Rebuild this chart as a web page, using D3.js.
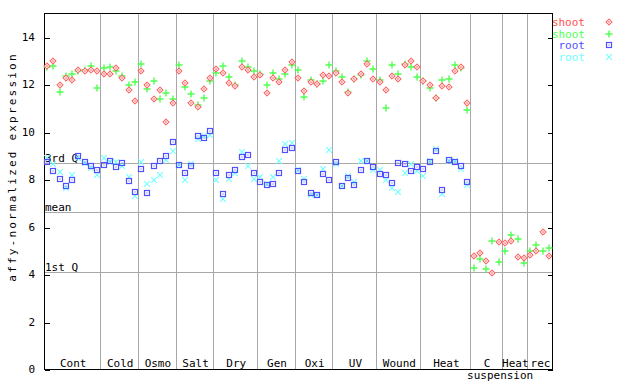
<!DOCTYPE html>
<html>
<head>
<meta charset="utf-8">
<script src="https://cdn.jsdelivr.net/npm/d3@7"></script>
<style>
  html, body { margin: 0; padding: 0; background: #fff; }
  svg { display: block; }
  text { font-family: "DejaVu Sans Mono", "Liberation Mono", monospace; font-size: 11px; fill: #000; }
</style>
</head>
<body>
<svg id="chart" width="640" height="384"></svg>
<script>
// ---- data ----
const groups = ["Cont", "Cold", "Osmo", "Salt", "Dry", "Gen", "Oxi", "UV", "Wound", "Heat", "C", "Heat", "rec"];
const groupSub = ["", "", "", "", "", "", "", "", "", "", "suspension", "", ""];
const groupSizes = [9, 6, 6, 6, 7, 6, 6, 7, 7, 8, 5, 4, 4];
const yTicks = [0, 2, 4, 6, 8, 10, 12, 14];
const seriesNames = ["shoot", "shoot", "root", "root"];
const seriesColors = ["#ff5050", "#50ff50", "#5050ff", "#70ffff"];

const shootRed = [
  12.75, 12.96, 11.98, 12.27, 12.19, 12.61, 12.54, 12.61, 12.57,
  12.44, 12.41, 12.67, 12.28, 11.77, 11.30,
  12.57, 11.95, 11.36, 11.77, 10.41, 11.22,
  12.54, 12.03, 11.22, 11.05, 11.78, 12.28,
  12.62, 12.49, 12.07, 11.93, 12.71, 12.61, 12.31,
  12.37, 11.64, 12.27, 12.11, 12.58, 12.92,
  12.28, 11.73, 12.11, 12.02, 12.40, 12.35,
  12.49, 12.11, 11.64, 12.24, 12.41, 12.87, 12.23,
  12.10, 11.77, 12.35, 12.23, 12.83, 12.96, 12.74,
  12.15, 11.98, 11.43, 11.93, 11.89, 12.57, 12.74, 11.19,
  4.77, 4.88, 4.55, 4.04, 5.35,
  5.31, 5.39, 4.71, 4.67,
  4.80, 4.97, 5.77, 4.76
];
const shootGreen = [
  12.71, 12.75, 11.69, 12.35, 12.45, 12.54, 12.58, 12.75, 11.86,
  12.67, 12.71, 12.54, 12.35, 11.95, 12.11,
  12.87, 11.78, 12.15, 11.38, 11.64, 11.37,
  12.79, 11.89, 11.60, 11.14, 11.40, 12.15,
  12.49, 12.75, 12.32, 11.98, 12.96, 12.74, 12.57,
  12.41, 11.98, 12.49, 12.23, 12.41, 12.82,
  12.58, 11.44, 12.19, 12.02, 12.15, 12.79,
  12.54, 12.32, 11.69, 12.20, 12.37, 12.96, 12.62,
  12.19, 11.00, 12.79, 12.45, 12.87, 12.71, 12.31,
  12.15, 11.85, 11.43, 12.19, 12.23, 12.79, 12.70, 10.93,
  4.25, 4.63, 4.21, 5.39, 4.50,
  4.97, 5.64, 5.47, 4.46,
  4.97, 5.22, 4.97, 5.09
];
const rootBlue = [
  8.72, 8.36, 8.01, 7.71, 7.98, 8.99, 8.71, 8.56, 8.40,
  8.60, 8.77, 8.53, 8.68, 7.92, 7.47,
  8.43, 7.43, 8.56, 8.77, 8.96, 9.57,
  8.60, 8.26, 8.57, 9.82, 9.74, 10.03,
  8.26, 7.39, 8.18, 8.40, 8.95, 9.02, 8.27,
  7.88, 7.77, 7.80, 8.26, 9.23, 9.32,
  8.36, 7.88, 7.42, 7.35, 8.23, 7.97,
  8.72, 7.71, 8.05, 7.75, 8.39, 8.77, 8.51,
  8.22, 8.18, 7.84, 8.68, 8.64, 8.34, 8.51,
  8.43, 8.72, 9.19, 7.56, 8.82, 8.72, 8.56, 7.89
];
const rootCyan = [
  8.89, 8.64, 8.30, 7.63, 8.18, 8.88, 8.67, 8.47, 8.18,
  8.89, 8.72, 8.72, 8.57, 8.10, 7.27,
  8.71, 7.81, 7.97, 8.19, 8.79, 9.19,
  8.60, 7.97, 8.64, 9.67, 9.82, 9.84,
  7.97, 7.18, 8.01, 8.26, 9.15, 8.57, 8.02,
  8.09, 7.80, 8.09, 8.77, 9.50, 9.53,
  8.37, 8.02, 7.33, 7.35, 8.43, 9.23,
  8.64, 7.71, 8.15, 7.88, 8.77, 8.77, 8.40,
  8.40, 7.97, 7.61, 7.47, 8.26, 8.64, 8.34,
  8.13, 8.77, 9.27, 7.36, 8.77, 8.78, 8.43, 7.75
];
const refLabels = ["3rd Q", "mean", "1st Q"];
const refValues = [8.68, 6.61, 4.08];

// ---- layout ----
const L = 44, R = 552, T = 13, B = 369;
const nTotal = groupSizes.reduce((a, b) => a + b, 0);

const svg = d3.select("#chart");
const x = d3.scaleLinear().domain([0, nTotal]).range([L, R]);
const y = d3.scaleLinear().domain([0, 15]).range([B, T]);
const px = v => Math.round(v) + 0.5;

const g = svg.append("g");

// group separators
const bounds = [];
let acc = 0;
groupSizes.forEach(s => { bounds.push([acc, acc + s]); acc += s; });

g.selectAll("line.sep").data(bounds.slice(1)).enter().append("line")
  .attr("x1", d => px(x(d[0]))).attr("x2", d => px(x(d[0])))
  .attr("y1", T).attr("y2", B)
  .attr("stroke", "#a8a8a8").attr("stroke-width", 1).attr("shape-rendering", "crispEdges");

// reference lines
g.selectAll("line.ref").data(refValues).enter().append("line")
  .attr("x1", L).attr("x2", R)
  .attr("y1", d => px(y(d))).attr("y2", d => px(y(d)))
  .attr("stroke", "#a8a8a8").attr("stroke-width", 1).attr("shape-rendering", "crispEdges");

g.selectAll("text.ref").data(refValues).enter().append("text")
  .attr("x", L + 1).attr("y", d => Math.round(y(d)) - 1)
  .text((d, i) => refLabels[i]);

// axes (ticks inside)
const yAxisL = d3.axisRight(y).tickValues(yTicks).tickSize(5).tickFormat("");
const yAxisR = d3.axisLeft(y).tickValues(yTicks).tickSize(5).tickFormat("");
const aL = g.append("g").attr("transform", `translate(${L + 0.5},0)`).call(yAxisL);
const aR = g.append("g").attr("transform", `translate(${R + 0.5},0)`).call(yAxisR);
[aL, aR].forEach(a => {
  a.select(".domain").remove();
  a.selectAll("line").attr("stroke", "#000").attr("shape-rendering", "crispEdges")
    .attr("transform", d => `translate(0,${Math.round(y(d)) + 0.5 - y(d)})`);
});

// tick labels
g.selectAll("text.tl").data(yTicks).enter().append("text")
  .attr("x", 35).attr("y", d => y(d) + 4)
  .attr("text-anchor", "end")
  .text(d => d);

// frame
g.append("rect").attr("x", L + 0.5).attr("y", T + 0.5).attr("width", R - L).attr("height", B - T)
  .attr("fill", "none").attr("stroke", "#000").attr("stroke-width", 1).attr("shape-rendering", "crispEdges");

// group labels
g.selectAll("text.gl").data(bounds).enter().append("text")
  .attr("x", d => x((d[0] + d[1]) / 2) + 1).attr("y", 367)
  .attr("text-anchor", "middle")
  .text((d, i) => groups[i]);
g.selectAll("text.gs").data(bounds).enter().append("text")
  .attr("x", (d, i) => x((d[0] + d[1]) / 2) + 14).attr("y", 379)
  .attr("text-anchor", "middle")
  .text((d, i) => groupSub[i]);

// y title
g.append("text")
  .attr("transform", "translate(16,167) rotate(-90)")
  .attr("text-anchor", "middle")
  .style("letter-spacing", "2.2px")
  .text("affy-normalized expression");

// markers
function drawMarker(sel, type, color) {
  if (type === 0) {
    sel.append("path").attr("d", "M0,-3.2L3.2,0L0,3.2L-3.2,0Z")
      .attr("fill", "#ffd0d0").attr("stroke", color).attr("stroke-width", 1);
    sel.append("rect").attr("x", -0.5).attr("y", -0.5).attr("width", 1).attr("height", 1).attr("fill", color);
  } else if (type === 1) {
    sel.append("path").attr("d", "M-3.5,0H3.5M0,-3.5V3.5")
      .attr("stroke", color).attr("stroke-width", 1.4).attr("fill", "none");
  } else if (type === 2) {
    sel.append("rect").attr("x", -2.5).attr("y", -2.5).attr("width", 5).attr("height", 5)
      .attr("fill", "none").attr("stroke", color).attr("stroke-width", 1.2);
    sel.append("rect").attr("x", -0.5).attr("y", -0.5).attr("width", 1).attr("height", 1).attr("fill", color);
  } else {
    sel.append("path").attr("d", "M-2.8,-2.8L2.8,2.8M-2.8,2.8L2.8,-2.8")
      .attr("stroke", color).attr("stroke-width", 1.1).attr("fill", "none");
  }
}

const allSeries = [shootRed, shootGreen, rootBlue, rootCyan];
const drawOrder = [3, 2, 1, 0];
drawOrder.forEach(si => {
  const data = allSeries[si];
  g.selectAll(null).data(data).enter().append("g")
    .attr("transform", (d, i) => `translate(${Math.round(x(i + 0.5))},${Math.round(y(d))})`)
    .each(function () { drawMarker(d3.select(this), si, seriesColors[si]); });
});

// legend
const legY = [22, 33.5, 45, 56.5];
seriesNames.forEach((name, i) => {
  g.append("text").attr("x", 585).attr("y", legY[i] + 4).attr("text-anchor", "end")
    .style("fill", seriesColors[i]).text(name);
  const m = g.append("g").attr("transform", `translate(609,${Math.round(legY[i])})`);
  drawMarker(m, i, seriesColors[i]);
});
</script>
</body>
</html>
